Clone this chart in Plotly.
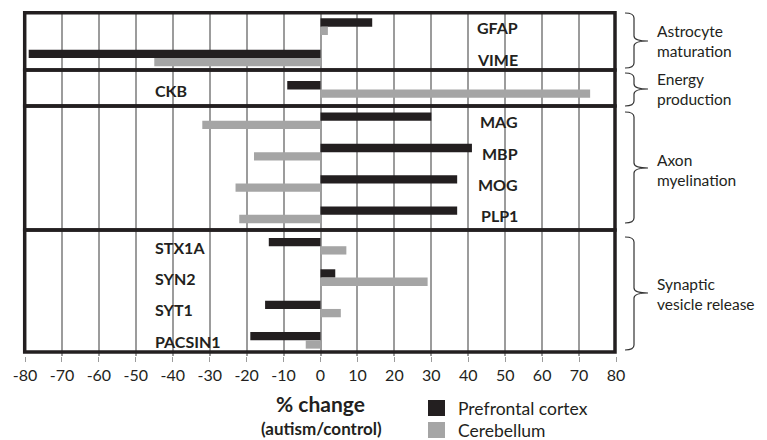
import plotly.graph_objects as go

genes = ["GFAP", "VIME", "CKB", "MAG", "MBP", "MOG", "PLP1",
         "STX1A", "SYN2", "SYT1", "PACSIN1"]
prefrontal = [14, -79, -9, 30, 41, 37, 37, -14, 4, -15, -19]
cerebellum = [2, -45, 73, -32, -18, -23, -22, 7, 29, 5.5, -4]
series_names = ["Prefrontal cortex", "Cerebellum"]
tick_vals = list(range(-80, 81, 10))
tick_text = [str(v) for v in tick_vals]

# label placement: genes labelled on right side vs left side
right_labels = ["GFAP", "VIME", "MAG", "MBP", "MOG", "PLP1"]
left_labels = ["CKB", "STX1A", "SYN2", "SYT1", "PACSIN1"]

groups = ["Astrocyte<br>maturation", "Energy<br>production",
          "Axon<br>myelination", "Synaptic<br>vesicle release"]

W, H = 767, 440
L, R, T, B = 25, 616, 11, 356  # plot area in pixels
FONT = "Lato"
DARK = "#231f20"
GREY = "#a5a5a5"
COLORS = [DARK, GREY]


def xp(px):
    return (px - L) / (R - L)


def yp(py):
    return (B - py) / (B - T)


fig = go.Figure()
for name, vals, col in zip(series_names, [prefrontal, cerebellum], COLORS):
    fig.add_trace(go.Bar(y=genes, x=vals, orientation="h", name=name,
                         marker_color=col, marker_line_width=0,
                         showlegend=False))

shapes = []
# thick group boxes
box_edges = [12.7, 70, 106, 230, 352]
for i in range(4):
    shapes.append(dict(type="rect", xref="paper", yref="paper",
                       x0=xp(24.7), x1=xp(615), y0=yp(box_edges[i]),
                       y1=yp(box_edges[i + 1]),
                       line=dict(color=DARK, width=3.5)))

# braces
braces = [(13, 68, 41), (73, 106, 89), (112, 223, 168), (237, 350, 293)]
xl, xv, xt = 625, 634, 648


def P(x, y):
    return f"{xp(x):.5f},{yp(y):.5f}"


for y0, y1, ym in braces:
    path = (f"M{P(xl, y0)} Q{P(xv, y0)} {P(xv, y0 + 5)} L{P(xv, ym - 5)} "
            f"Q{P(xv, ym)} {P(xt, ym)} Q{P(xv, ym)} {P(xv, ym + 5)} "
            f"L{P(xv, y1 - 5)} Q{P(xv, y1)} {P(xl, y1)}")
    shapes.append(dict(type="path", xref="paper", yref="paper", path=path,
                       line=dict(color="#333333", width=1.2)))

# legend (drawn as keys + text)
legend_y = [408, 430]
for name, col, ly in zip(series_names, COLORS, legend_y):
    shapes.append(dict(type="rect", xref="paper", yref="paper",
                       x0=xp(428), x1=xp(445), y0=yp(ly - 8), y1=yp(ly + 8),
                       fillcolor=col, line=dict(width=0)))

annotations = []
for name, ly in zip(series_names, legend_y):
    annotations.append(dict(x=xp(456), y=yp(ly), xref="paper", yref="paper",
                            text=name, showarrow=False, xanchor="left",
                            yanchor="middle",
                            font=dict(family=FONT, size=17.5, color=DARK)))

for g in right_labels:
    annotations.append(dict(x=54, y=g, xref="x", yref="y", text=f"<b>{g}</b>",
                            showarrow=False, xanchor="right", yanchor="middle",
                            yshift=-1,
                            font=dict(family=FONT, size=16, color=DARK)))
for g in left_labels:
    annotations.append(dict(x=-45.3, y=g, xref="x", yref="y", text=f"<b>{g}</b>",
                            showarrow=False, xanchor="left", yanchor="middle",
                            yshift=-1,
                            font=dict(family=FONT, size=16, color=DARK)))

group_y = [41, 89, 170, 294]
for txt, gy in zip(groups, group_y):
    annotations.append(dict(x=xp(655), y=yp(gy), xref="paper", yref="paper",
                            text=txt, showarrow=False, xanchor="left",
                            yanchor="middle", align="left",
                            font=dict(family=FONT, size=15.5, color=DARK)))

annotations.append(dict(x=xp(320.5), y=yp(403), xref="paper", yref="paper",
                        text="<b>% change</b>", showarrow=False,
                        xanchor="center", yanchor="middle",
                        font=dict(family=FONT, size=21, color=DARK)))
annotations.append(dict(x=xp(321), y=yp(428.5), xref="paper", yref="paper",
                        text="<b>(autism/control)</b>", showarrow=False,
                        xanchor="center", yanchor="middle",
                        font=dict(family=FONT, size=17, color=DARK)))

fig.update_layout(
    width=W, height=H,
    margin=dict(l=L, r=W - R, t=T, b=H - B, pad=0),
    paper_bgcolor="white", plot_bgcolor="white",
    barmode="group", bargap=0.47, bargroupgap=0,
    showlegend=False,
    shapes=shapes, annotations=annotations,
    font=dict(family=FONT, color=DARK),
)
fig.update_xaxes(range=[-80, 80], tickvals=tick_vals, ticktext=tick_text,
                 showgrid=True, gridcolor="#9c9c9c", gridwidth=1.5,
                 zeroline=True, zerolinecolor="#9c9c9c", zerolinewidth=1.5,
                 showline=False, ticks="outside", ticklen=5, tickcolor="#9c9c9c",
                 tickfont=dict(family=FONT, size=16, color=DARK))
fig.update_yaxes(autorange="reversed", showticklabels=False, showgrid=False,
                 zeroline=False, showline=False, ticks="")

fig.write_html("out.html", config={"displayModeBar": False},
               post_script="document.body.style.margin='0px';"
                           "document.body.style.overflow='hidden';")
